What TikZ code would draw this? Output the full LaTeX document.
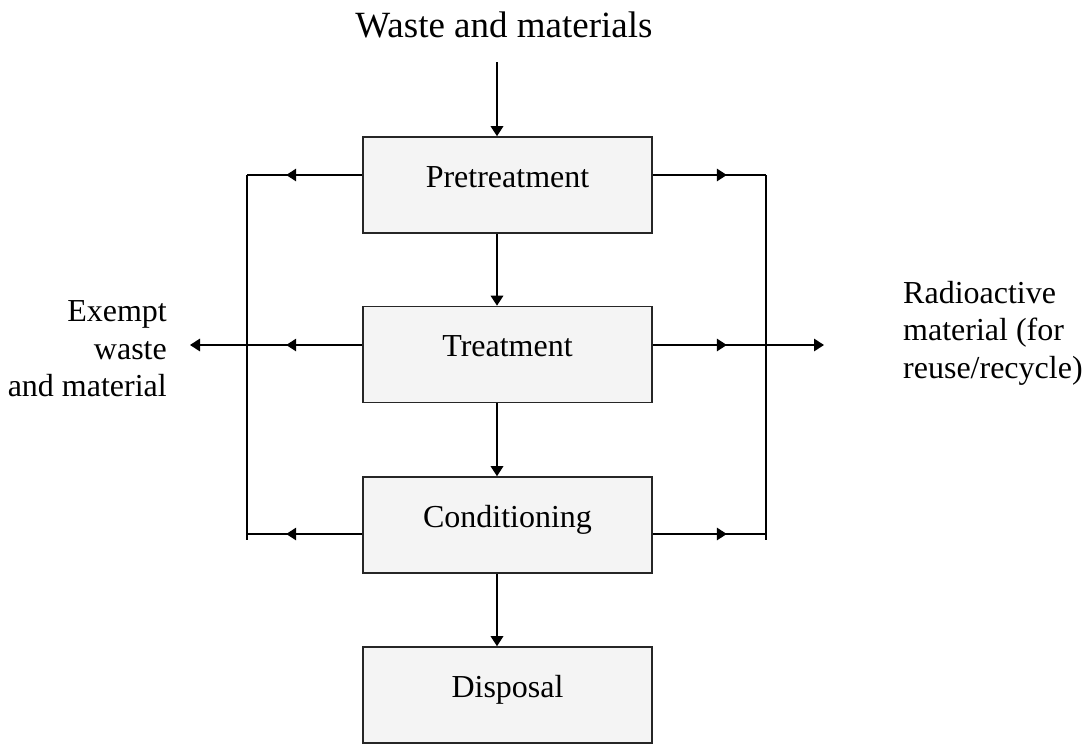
\documentclass[tikz,border=0pt]{standalone}
\usepackage{fontspec}
\setmainfont{Liberation Serif}
\usetikzlibrary{arrows.meta,decorations.markings,calc}
\definecolor{boxgray}{HTML}{F4F4F4}
\begin{document}
\begin{tikzpicture}[x=1pt,y=-1pt,
  box/.style={draw=black!85, line width=1.6pt, fill=boxgray, minimum width=289pt,
    minimum height=96pt, text height=14pt, text depth=10pt, inner sep=0pt,
    font=\fontsize{32}{37.5}\selectfont},
  lab/.style={inner sep=0pt, font=\fontsize{32}{37.5}\selectfont},
  ln/.style={line width=1.6pt},
  tipend/.style={-{Triangle[length=10pt,width=12.5pt]}},
  midarr/.style={postaction={decorate},
    decoration={markings, mark=at position #1 with {\arrow{Triangle[length=10pt,width=12.5pt]}}}}]
\useasboundingbox (0,0) rectangle (1089,744);

% title
\node[font=\fontsize{37}{44}\selectfont, anchor=base, inner sep=0pt] (src) at (504,37) {Waste and materials};

% boxes
\node[box] (pre)   at (507.5,185)   {Pretreatment};
\node[box] (treat) at (507.5,354.5) {Treatment};
\node[box] (cond)  at (507.5,525)   {Conditioning};
\node[box] (disp)  at (507.5,695)   {Disposal};

% side labels
\node[lab, anchor=east, align=right] (exempt) at (167,349) {Exempt\\waste\\and material};
\node[lab, anchor=west, align=left] (radio) at (903,333) {Radioactive\\material (for\\reuse/recycle)};

% helper coordinates
\coordinate (srcend) at (497,62);
\coordinate (lt) at (247,175);
\coordinate (lb) at (247,540);
\coordinate (rt) at (766,175);
\coordinate (rb) at (766,540);
\coordinate (preL) at ($(pre.west)+(0,-10)$);
\coordinate (preR) at ($(pre.east)+(0,-10)$);
\coordinate (treatL) at ($(treat.west)+(0,-9.5)$);
\coordinate (treatR) at ($(treat.east)+(0,-9.5)$);
\coordinate (condL) at ($(cond.west)+(0,9)$);
\coordinate (condR) at ($(cond.east)+(0,9)$);
\coordinate (exTip) at (190,345);
\coordinate (raTip) at (824,345);

% main vertical flow
\draw[ln, tipend] (srcend) -- (srcend |- pre.north);
\draw[ln, tipend] (srcend |- pre.south) -- (srcend |- treat.north);
\draw[ln, tipend] (srcend |- treat.south) -- (srcend |- cond.north);
\draw[ln, tipend] (srcend |- cond.south) -- (srcend |- disp.north);

% left branch
\draw[ln, midarr=76pt] (preL) -- (lt);
\draw[ln] (lt) -- (lb);
\draw[ln, midarr=76pt] (condL) -- (condL -| lt);
\draw[ln, midarr=76pt, tipend] (treatL) -- (exTip);

% right branch
\draw[ln, midarr=74pt] (preR) -- (rt);
\draw[ln] (rt) -- (rb);
\draw[ln, midarr=74pt] (condR) -- (condR -| rt);
\draw[ln, midarr=74pt, tipend] (treatR) -- (raTip);
\end{tikzpicture}
\end{document}
